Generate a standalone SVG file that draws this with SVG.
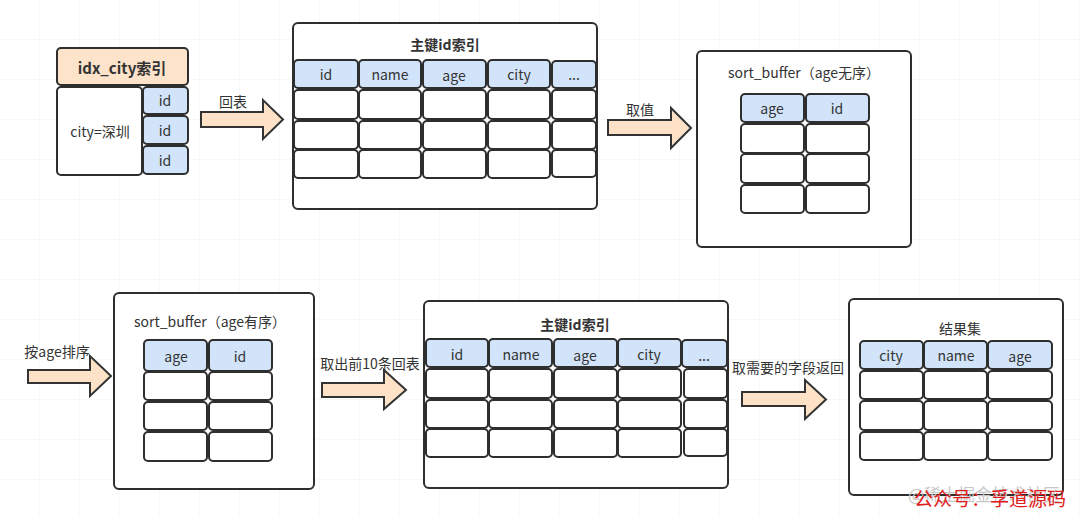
<svg xmlns="http://www.w3.org/2000/svg" width="1080" height="517" viewBox="0 0 1080 517">
<defs>
<pattern id="grid" width="40" height="40" patternUnits="userSpaceOnUse">
<path d="M40 0V40M0 40H40" fill="none" stroke="#f1f1f1" stroke-width="1"/>
</pattern>
<style>
.box{fill:#fff;stroke:#2e2e2e;stroke-width:2}
.hd{fill:#d2e4fa;stroke:#2e2e2e;stroke-width:2}
.cl{fill:#fff;stroke:#2e2e2e;stroke-width:2}
.pe{fill:#fde3c9;stroke:#2e2e2e;stroke-width:2}
.ar{fill:#fde2c7;stroke:#333;stroke-width:2;stroke-linejoin:miter}
text{font-family:"Noto Sans CJK SC","Noto Sans",sans-serif;fill:#333;font-size:14px;text-anchor:middle;dominant-baseline:central}
.b{font-weight:bold}
</style>
</defs>
<rect width="1080" height="517" fill="#fff"/>
<rect width="1080" height="517" fill="url(#grid)"/>

<g id="idx_city">
<rect class="pe" x="57" y="48" width="131" height="37" rx="4"/>
<text class="b" x="122" y="67" style="font-size:15px">idx_city索引</text>
<rect class="box" x="57" y="87" width="85" height="88" rx="4"/>
<text x="100" y="131">city=深圳</text>
<rect class="hd" x="143" y="87" width="45" height="27" rx="4"/>
<rect class="hd" x="143" y="116" width="45" height="28" rx="4"/>
<rect class="hd" x="143" y="146" width="45" height="28" rx="4"/>
<text x="165" y="100">id</text>
<text x="165" y="130">id</text>
<text x="165" y="160">id</text>
</g>

<g id="pk_index_1">
<rect class="box" x="293" y="23" width="304" height="186" rx="5"/>
<text class="b" x="445" y="44">主键id索引</text>
<rect class="hd" x="294" y="60" width="64" height="28" rx="4"/>
<rect class="hd" x="359" y="60" width="62" height="28" rx="4"/>
<rect class="hd" x="423" y="60" width="63" height="28" rx="4"/>
<rect class="hd" x="488" y="60" width="62" height="28" rx="4"/>
<rect class="hd" x="552" y="61" width="44" height="27" rx="4"/>
<text x="326" y="74">id</text>
<text x="390" y="74">name</text>
<text x="454" y="75">age</text>
<text x="519" y="74">city</text>
<text x="574" y="74">...</text>
<g>
<rect class="cl" x="294" y="90" width="64" height="29" rx="4"/>
<rect class="cl" x="359" y="90" width="62" height="29" rx="4"/>
<rect class="cl" x="423" y="90" width="63" height="29" rx="4"/>
<rect class="cl" x="488" y="90" width="62" height="29" rx="4"/>
<rect class="cl" x="552" y="90" width="44" height="29" rx="4"/>
<rect class="cl" x="294" y="121" width="64" height="28" rx="4"/>
<rect class="cl" x="359" y="121" width="62" height="28" rx="4"/>
<rect class="cl" x="423" y="121" width="63" height="28" rx="4"/>
<rect class="cl" x="488" y="121" width="62" height="28" rx="4"/>
<rect class="cl" x="552" y="121" width="44" height="28" rx="4"/>
<rect class="cl" x="294" y="150" width="64" height="28" rx="4"/>
<rect class="cl" x="359" y="150" width="62" height="28" rx="4"/>
<rect class="cl" x="423" y="150" width="63" height="28" rx="4"/>
<rect class="cl" x="488" y="150" width="62" height="28" rx="4"/>
<rect class="cl" x="552" y="150" width="44" height="27" rx="4"/>
</g>
</g>

<g id="sort_buffer_unsorted">
<rect class="box" x="697" y="51" width="214" height="196" rx="5"/>
<text x="804" y="72">sort_buffer（age无序）</text>
<rect class="hd" x="741" y="94" width="63" height="28" rx="4"/>
<rect class="hd" x="806" y="94" width="63" height="28" rx="4"/>
<text x="772" y="108">age</text>
<text x="837" y="108">id</text>
<rect class="cl" x="741" y="124" width="63" height="29" rx="4"/>
<rect class="cl" x="806" y="124" width="63" height="29" rx="4"/>
<rect class="cl" x="741" y="154" width="63" height="29" rx="4"/>
<rect class="cl" x="806" y="154" width="63" height="29" rx="4"/>
<rect class="cl" x="741" y="185" width="63" height="28" rx="4"/>
<rect class="cl" x="806" y="185" width="63" height="28" rx="4"/>
</g>

<g id="sort_buffer_sorted">
<rect class="box" x="114" y="293" width="200" height="196" rx="5"/>
<text x="210" y="321">sort_buffer（age有序）</text>
<rect class="hd" x="144" y="340" width="63" height="31" rx="4"/>
<rect class="hd" x="209" y="340" width="63" height="31" rx="4"/>
<text x="176" y="356">age</text>
<text x="240" y="356">id</text>
<rect class="cl" x="144" y="372" width="63" height="28" rx="4"/>
<rect class="cl" x="209" y="372" width="63" height="28" rx="4"/>
<rect class="cl" x="144" y="402" width="63" height="28" rx="4"/>
<rect class="cl" x="209" y="402" width="63" height="28" rx="4"/>
<rect class="cl" x="144" y="432" width="63" height="29" rx="4"/>
<rect class="cl" x="209" y="432" width="63" height="29" rx="4"/>
</g>

<g id="pk_index_2">
<rect class="box" x="424" y="301" width="304" height="187" rx="5"/>
<text class="b" x="575" y="324">主键id索引</text>
<rect class="hd" x="426" y="339" width="62" height="28" rx="4"/>
<rect class="hd" x="489" y="339" width="63" height="28" rx="4"/>
<rect class="hd" x="554" y="339" width="63" height="28" rx="4"/>
<rect class="hd" x="618" y="339" width="63" height="28" rx="4"/>
<rect class="hd" x="682" y="340" width="45" height="27" rx="4"/>
<text x="457" y="354">id</text>
<text x="521" y="354">name</text>
<text x="585" y="355">age</text>
<text x="649" y="354">city</text>
<text x="704" y="355">...</text>
<rect class="cl" x="426" y="369" width="62" height="29" rx="4"/>
<rect class="cl" x="489" y="369" width="63" height="29" rx="4"/>
<rect class="cl" x="554" y="369" width="63" height="29" rx="4"/>
<rect class="cl" x="618" y="369" width="63" height="29" rx="4"/>
<rect class="cl" x="684" y="369" width="43" height="29" rx="4"/>
<rect class="cl" x="426" y="400" width="62" height="28" rx="4"/>
<rect class="cl" x="489" y="400" width="63" height="28" rx="4"/>
<rect class="cl" x="554" y="400" width="63" height="28" rx="4"/>
<rect class="cl" x="618" y="400" width="63" height="28" rx="4"/>
<rect class="cl" x="684" y="400" width="43" height="28" rx="4"/>
<rect class="cl" x="426" y="429" width="62" height="28" rx="4"/>
<rect class="cl" x="489" y="429" width="63" height="28" rx="4"/>
<rect class="cl" x="554" y="429" width="63" height="28" rx="4"/>
<rect class="cl" x="618" y="429" width="63" height="28" rx="4"/>
<rect class="cl" x="684" y="429" width="43" height="27" rx="4"/>
</g>

<g id="result_set">
<rect class="box" x="849" y="299" width="214" height="196" rx="5"/>
<text x="960" y="328">结果集</text>
<rect class="hd" x="860" y="341" width="63" height="28" rx="4"/>
<rect class="hd" x="924" y="341" width="63" height="28" rx="4"/>
<rect class="hd" x="988" y="341" width="64" height="28" rx="4"/>
<text x="891" y="355">city</text>
<text x="956" y="355">name</text>
<text x="1020" y="356">age</text>
<rect class="cl" x="860" y="371" width="63" height="28" rx="4"/>
<rect class="cl" x="924" y="371" width="63" height="28" rx="4"/>
<rect class="cl" x="988" y="371" width="64" height="28" rx="4"/>
<rect class="cl" x="860" y="401" width="63" height="29" rx="4"/>
<rect class="cl" x="924" y="401" width="63" height="29" rx="4"/>
<rect class="cl" x="988" y="401" width="64" height="29" rx="4"/>
<rect class="cl" x="860" y="432" width="63" height="28" rx="4"/>
<rect class="cl" x="924" y="432" width="63" height="28" rx="4"/>
<rect class="cl" x="988" y="432" width="64" height="28" rx="4"/>
</g>

<g id="connectors">
<polygon class="ar" points="201,112 263,112 263,100 283,119.5 263,139 263,127 201,127"/>
<text x="233" y="101">回表</text>
<polygon class="ar" points="608,120 671,120 671,108 691,128 671,148 671,135 608,135"/>
<text x="640" y="109">取值</text>
<polygon class="ar" points="28,370 90,370 90,356 111,376 90,396 90,383 28,383"/>
<text x="57" y="351">按age排序</text>
<polygon class="ar" points="322,383 384,383 384,370 406,390 384,409 384,397 322,397"/>
<text x="370" y="363">取出前10条回表</text>
<polygon class="ar" points="742,392 805,392 805,380 826,399.5 805,419 805,406 742,406"/>
<text x="788" y="367">取需要的字段返回</text>
</g>

<text x="984" y="493" style="font-size:17px;fill:#c8c8c8">@稀土掘金技术社区</text>
<text x="990" y="497" style="font-size:19px;fill:#e0201c">公众号：孚道源码</text>
</svg>
